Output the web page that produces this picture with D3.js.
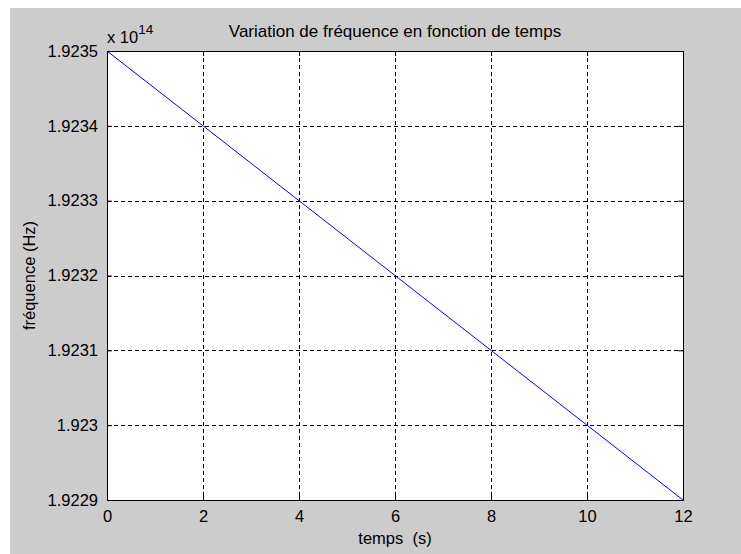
<!DOCTYPE html>
<html>
<head>
<meta charset="utf-8">
<script src="https://cdn.jsdelivr.net/npm/d3@7/dist/d3.min.js"></script>
<style>
  body { margin: 0; background: #fff; }
  text { font-family: Arial, "Liberation Sans", sans-serif; fill: #000; }
</style>
</head>
<body>
<div id="chart"></div>
<script>
// data (frequency in units of 1e14 Hz)
const temps = [0, 2, 4, 6, 8, 10, 12];
const frequence = [1.9235, 1.9234, 1.9233, 1.9232, 1.9231, 1.9230, 1.9229];
const xTicks = [0, 2, 4, 6, 8, 10, 12];
const yTicks = [1.9229, 1.9230, 1.9231, 1.9232, 1.9233, 1.9234, 1.9235];
const titleText = "Variation de fréquence en fonction de temps";
const xLabelText = "temps  (s)";
const yLabelText = "fréquence (Hz)";
const exponentText = "14";

const W = 741, H = 554;
const margin = { top: 51, right: 58, bottom: 54, left: 107 };
const width = W - margin.left - margin.right;
const height = H - margin.top - margin.bottom;
const fontSize = 16.5;

const svg = d3.select("#chart").append("svg")
  .attr("width", W)
  .attr("height", H);

// grey figure background
svg.append("rect")
  .attr("x", 10).attr("y", 8)
  .attr("width", W - 10).attr("height", H - 8)
  .attr("fill", "#cccccc");

const g = svg.append("g")
  .attr("transform", "translate(" + margin.left + "," + margin.top + ")");

const x = d3.scaleLinear().domain([0, 12]).range([0, width]);
const y = d3.scaleLinear().domain([1.9229, 1.9235]).range([height, 0]);

// white axes area
g.append("rect")
  .attr("width", width).attr("height", height)
  .attr("fill", "#fff");

// grid
g.append("g").selectAll("line")
  .data(xTicks.slice(1, -1))
  .enter().append("line")
  .attr("x1", d => Math.round(x(d)) + 0.5).attr("x2", d => Math.round(x(d)) + 0.5)
  .attr("y1", 0).attr("y2", height)
  .attr("stroke", "#000").attr("stroke-dasharray", "4,3");

g.append("g").selectAll("line")
  .data(yTicks.slice(1, -1))
  .enter().append("line")
  .attr("y1", d => Math.round(y(d)) + 0.5).attr("y2", d => Math.round(y(d)) + 0.5)
  .attr("x1", 0).attr("x2", width)
  .attr("stroke", "#000").attr("stroke-dasharray", "4,3");

// data line
const line = d3.line()
  .x((d, i) => x(temps[i]))
  .y(d => y(d));
g.append("path")
  .datum(frequence)
  .attr("d", line)
  .attr("fill", "none")
  .attr("stroke", "#0000ff")
  .attr("stroke-width", 1);

// axes: ticks inside, labels outside
const xAxis = g.append("g")
  .attr("transform", "translate(0," + height + ")")
  .call(d3.axisBottom(x).tickValues(xTicks).tickSizeInner(-5).tickSizeOuter(0).tickPadding(10));
const yAxis = g.append("g")
  .call(d3.axisLeft(y).tickValues(yTicks).tickFormat(d3.format(".4~f")).tickSizeInner(-5).tickSizeOuter(0).tickPadding(9));
g.append("g")
  .call(d3.axisTop(x).tickValues(xTicks).tickSizeInner(-5).tickSizeOuter(0).tickFormat(""));
g.append("g")
  .attr("transform", "translate(" + width + ",0)")
  .call(d3.axisRight(y).tickValues(yTicks).tickSizeInner(-5).tickSizeOuter(0).tickFormat(""));

g.selectAll(".domain").remove();
g.selectAll(".tick line").attr("stroke", "#000");
g.selectAll(".tick text").attr("font-size", fontSize).attr("font-family", null).attr("fill", "#000");
xAxis.selectAll(".tick text").attr("dy", null).attr("y", 22);

// frame
g.append("rect")
  .attr("x", 0.5).attr("y", 0.5)
  .attr("width", width).attr("height", height)
  .attr("fill", "none").attr("stroke", "#000");

// title
svg.append("text")
  .attr("x", margin.left + width / 2).attr("y", 37)
  .attr("text-anchor", "middle")
  .attr("font-size", 17)
  .text(titleText);

// exponent label
const expo = svg.append("text")
  .attr("x", margin.left).attr("y", 43)
  .attr("font-size", fontSize);
expo.append("tspan").text("x 10");
expo.append("tspan").attr("dy", -9).attr("font-size", fontSize - 3).text(exponentText);

// x label
svg.append("text")
  .attr("x", margin.left + width / 2).attr("y", 544)
  .attr("text-anchor", "middle")
  .attr("font-size", fontSize)
  .style("white-space", "pre")
  .text(xLabelText);

// y label
svg.append("text")
  .attr("transform", "translate(35," + (margin.top + height / 2) + ") rotate(-90)")
  .attr("text-anchor", "middle")
  .attr("font-size", fontSize)
  .text(yLabelText);
</script>
</body>
</html>
